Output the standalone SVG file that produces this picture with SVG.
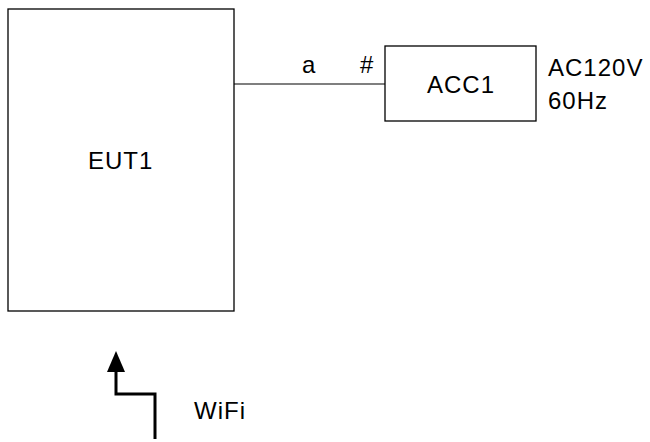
<svg xmlns="http://www.w3.org/2000/svg" width="650" height="442" viewBox="0 0 650 442">
<style>
.box{fill:#fff;stroke:#000;stroke-width:1.3}
.t{font-family:"Liberation Sans",Arial,sans-serif;font-size:24px;letter-spacing:1px;fill:#000}
.c{fill:none;stroke:#000;stroke-width:1.2}
.w{fill:none;stroke:#000;stroke-width:3;stroke-linejoin:miter}
</style>
<rect width="650" height="442" fill="#fff"/>
<g id="connectors">
<line class="c" x1="234" y1="84" x2="385" y2="84"/>
<text class="t" x="302" y="73">a</text>
<text class="t" x="360" y="73">#</text>
</g>
<g id="EUT1">
<rect class="box" x="8" y="9" width="226" height="302"/>
<text class="t" x="88" y="169">EUT1</text>
</g>
<g id="ACC1">
<rect class="box" x="385" y="46" width="151" height="75"/>
<text class="t" x="427" y="93">ACC1</text>
<text class="t" x="548" y="76">AC120V</text>
<text class="t" x="548" y="109">60Hz</text>
</g>
<g id="WiFi">
<polyline class="w" points="155,439 155,394 116,394 116,370"/>
<polygon points="116,351 107,372 125,372" fill="#000"/>
<text class="t" x="194" y="419">WiFi</text>
</g>
</svg>
